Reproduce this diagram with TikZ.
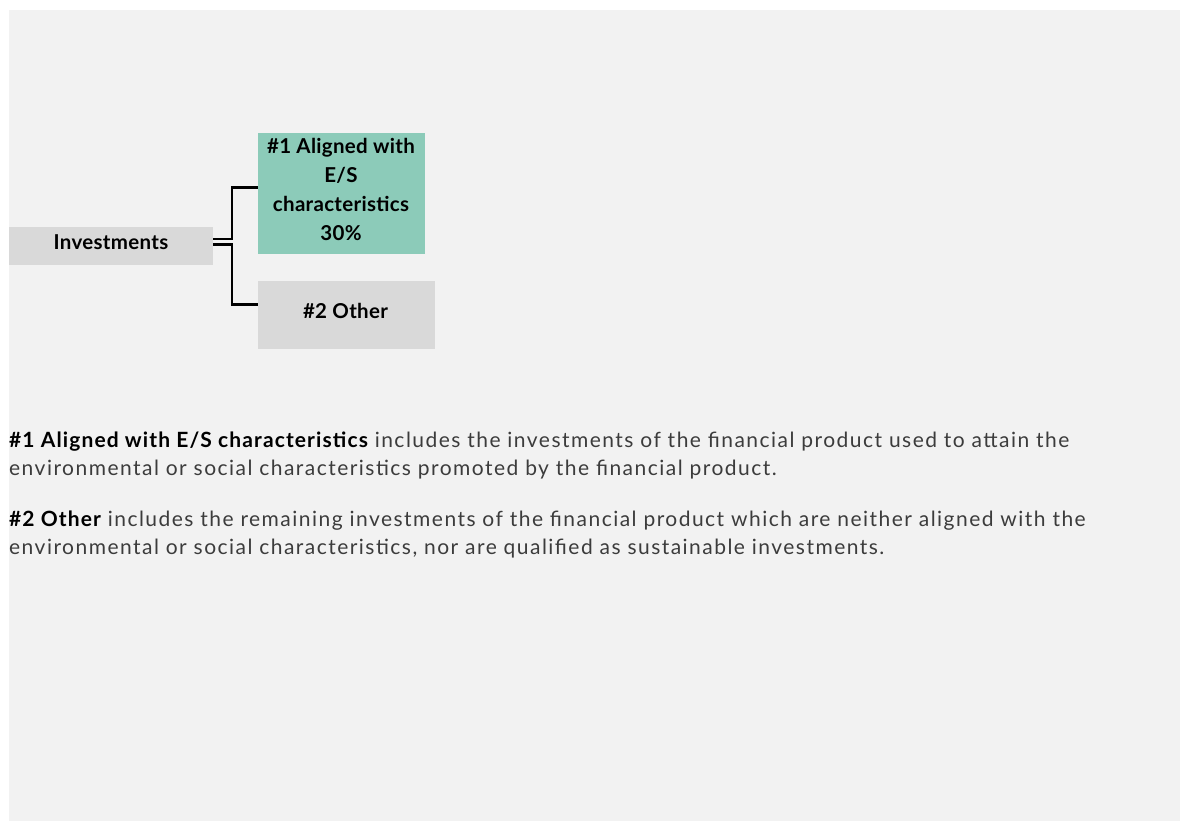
\documentclass[tikz,border=0pt]{standalone}
\usepackage{fontspec}
\setmainfont{Lato}
\newfontfamily\bodyfont[LetterSpace=7]{Lato}
\newfontfamily\headfont[LetterSpace=5.3]{Lato}
\newfontfamily\boxfont[LetterSpace=1.5]{Lato}
\definecolor{bgc}{HTML}{F2F2F2}
\definecolor{boxgray}{HTML}{D9D9D9}
\definecolor{boxgreen}{HTML}{8CCBB9}
\definecolor{bodytext}{HTML}{3C3C3C}
\begin{document}
\begin{tikzpicture}[x=1pt,y=-1pt,
  box/.style={rectangle, inner sep=0pt, draw=none},
  boxtext/.style={anchor=base, inner sep=0pt, align=center, text=black,
    font=\boxfont\fontsize{20.5}{29}\selectfont\bfseries},
  conn/.style={line width=2.2pt, black},
  para/.style={anchor=base west, inner sep=0pt, align=left, text=bodytext,
    font=\bodyfont\fontsize{21}{28}\selectfont}]
\useasboundingbox (0,0) rectangle (1180,822);
\fill[bgc] (9,10) rectangle (1180,821);

\node[box, fill=boxgray, minimum width=204pt, minimum height=38pt] (inv) at (111,246) {};
\node[box, fill=boxgreen, minimum width=167pt, minimum height=121pt] (aligned) at (341.5,193.5) {};
\node[box, fill=boxgray, minimum width=177pt, minimum height=68pt] (other) at (346.5,315) {};

\node[boxtext] (invtext) at (111,249) {Investments};
\node[boxtext] (alignedtext) at (341,240) {\#1 Aligned with\\E/S\\characteristics\\30\%};
\node[boxtext] (othertext) at (345.5,318.3) {\#2 Other};

\draw[conn] ([yshift=7pt]inv.east) -- ++(19,0) |- ([yshift=6pt]aligned.west);
\draw[conn] ([yshift=1.5pt]inv.east) -- ++(19,0) |- ([yshift=10.5pt]other.west);

\node[para] (p1) at (9,475)
  {{\color{black}\headfont\bfseries\#1 Aligned with E/S characteristics} includes the investments of the financial product used to attain the\\
   environmental or social characteristics promoted by the financial product.};
\node[para] (p2) at (9,554)
  {{\color{black}\headfont\bfseries\#2 Other} includes the remaining investments of the financial product which are neither aligned with the\\
   environmental or social characteristics, nor are qualified as sustainable investments.};
\end{tikzpicture}
\end{document}
